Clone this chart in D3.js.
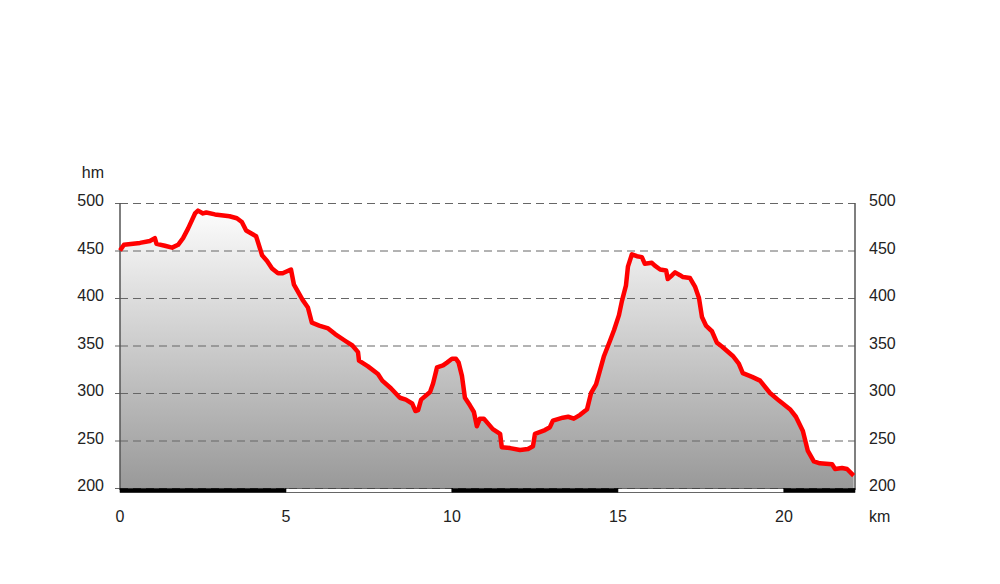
<!DOCTYPE html>
<html><head><meta charset="utf-8">
<script src="https://cdn.jsdelivr.net/npm/d3@7/dist/d3.min.js"></script>
<style>
html,body{margin:0;padding:0;background:#fff;}
svg{display:block;font-family:"Liberation Sans",Arial,sans-serif;}
</style></head>
<body>
<svg id="c" width="1000" height="584"></svg>
<script>
const distKm = [0,0.12,0.6,0.9,1.05,1.1,1.35,1.57,1.75,1.9,2.05,2.26,2.35,2.5,2.6,2.86,3.3,3.52,3.67,3.8,4.1,4.28,4.43,4.58,4.76,4.9,5.15,5.24,5.5,5.66,5.78,6.0,6.27,6.48,6.78,7.0,7.17,7.2,7.47,7.77,7.9,8.16,8.43,8.61,8.8,8.9,8.98,9.07,9.34,9.43,9.55,9.73,9.85,10.0,10.12,10.2,10.3,10.39,10.54,10.66,10.75,10.84,10.96,11.23,11.45,11.5,11.75,12.05,12.29,12.44,12.5,12.8,12.95,13.04,13.34,13.5,13.67,13.86,14.07,14.19,14.34,14.46,14.58,14.76,14.88,15.03,15.12,15.24,15.3,15.42,15.57,15.72,15.81,16.02,16.11,16.27,16.45,16.5,16.63,16.72,16.87,16.96,17.17,17.32,17.44,17.53,17.65,17.83,17.98,18.13,18.46,18.64,18.76,19.04,19.28,19.58,19.85,20.18,20.36,20.57,20.72,20.9,21.08,21.45,21.54,21.75,21.9,22.1];
const elevation = [450,456,458,460,463,457,455,453,456,463,473,489,492,489,490,488,486,484,480,471,465,445,439,431,426,426,430,414,398,390,374,371,368,362,355,350,343,334,328,320,313,305,295,293,289,281,282,293,301,310,327,329,332,336,336,332,318,295,287,280,265,273,273,262,257,243,242,240,241,244,257,261,264,271,274,275,273,277,283,300,309,324,339,355,366,382,397,413,433,446,444,443,436,437,434,430,429,420,424,427,424,422,421,412,400,380,371,365,353,349,339,331,321,317,313,300,292,283,275,260,239,228,226,225,220,221,220,213];
const yTicks = [200,250,300,350,400,450,500];
const xTicks = [0,5,10,15,20];
const scaleBarSegments = [[0,5,"black"],[5,10,"white"],[10,15,"black"],[15,20,"white"],[20,22.14,"black"]];
const xMaxKm = 22.14;

const svg = d3.select("#c");
const x = d3.scaleLinear().domain([0,xMaxKm]).range([120,855]);
const y = d3.scaleLinear().domain([200,500]).range([488,203]);
const data = distKm.map((d,i)=>({x:d,y:elevation[i]}));

const defs = svg.append("defs");
const g = defs.append("linearGradient").attr("id","fillg")
  .attr("gradientUnits","userSpaceOnUse").attr("x1",0).attr("x2",0).attr("y1",y(500)).attr("y2",y(200));
g.append("stop").attr("offset","0%").attr("stop-color","#ffffff");
g.append("stop").attr("offset","100%").attr("stop-color","#999999");

// area
svg.append("path").datum(data)
  .attr("d", d3.area().x(d=>x(d.x)).y0(y(200)).y1(d=>y(d.y)))
  .attr("fill","url(#fillg)");

// grid
svg.append("g").selectAll("line").data(yTicks).join("line")
  .attr("x1",x(0)).attr("x2",x(xMaxKm)).attr("y1",d=>y(d)+0.5).attr("y2",d=>y(d)+0.5)
  .attr("stroke","#666").attr("stroke-width",1).attr("stroke-dasharray","8,5");

// left ticks
svg.append("g").selectAll("line").data(yTicks).join("line")
  .attr("x1",x(0)-5).attr("x2",x(0)).attr("y1",d=>y(d)+0.5).attr("y2",d=>y(d)+0.5)
  .attr("stroke","#666").attr("stroke-width",1);

// axes lines
svg.append("line").attr("x1",x(0)).attr("x2",x(0)).attr("y1",y(500)).attr("y2",y(200)+2)
  .attr("stroke","#555").attr("stroke-width",1.5);
svg.append("line").attr("x1",x(xMaxKm)).attr("x2",x(xMaxKm)).attr("y1",y(500)).attr("y2",y(200)+2)
  .attr("stroke","#555").attr("stroke-width",1.5);

// red line
svg.append("path").datum(data)
  .attr("d", d3.line().x(d=>x(d.x)).y(d=>y(d.y)))
  .attr("fill","none").attr("stroke","#ff0000").attr("stroke-width",4.5).attr("stroke-linejoin","round");

// scale bar
svg.append("g").selectAll("rect").data(scaleBarSegments).join("rect")
  .attr("x",d=>x(d[0])).attr("width",d=>x(d[1])-x(d[0]))
  .attr("y",y(200)+0.5).attr("height",4)
  .attr("fill",d=>d[2]).attr("stroke","#000").attr("stroke-width",0.6);

// labels
const lab = svg.append("g").attr("font-size",16).attr("fill","#222");
lab.selectAll("text.l").data(yTicks).join("text").attr("class","l")
  .attr("x",104).attr("y",d=>y(d)+3).attr("text-anchor","end").text(d=>d);
lab.selectAll("text.r").data(yTicks).join("text").attr("class","r")
  .attr("x",869).attr("y",d=>y(d)+3).attr("text-anchor","start").text(d=>d);
lab.selectAll("text.x").data(xTicks).join("text").attr("class","x")
  .attr("x",d=>x(d)).attr("y",522).attr("text-anchor","middle").text(d=>d);
lab.append("text").attr("x",104).attr("y",178).attr("text-anchor","end").text("hm");
lab.append("text").attr("x",869).attr("y",522).text("km");
</script>
</body></html>
